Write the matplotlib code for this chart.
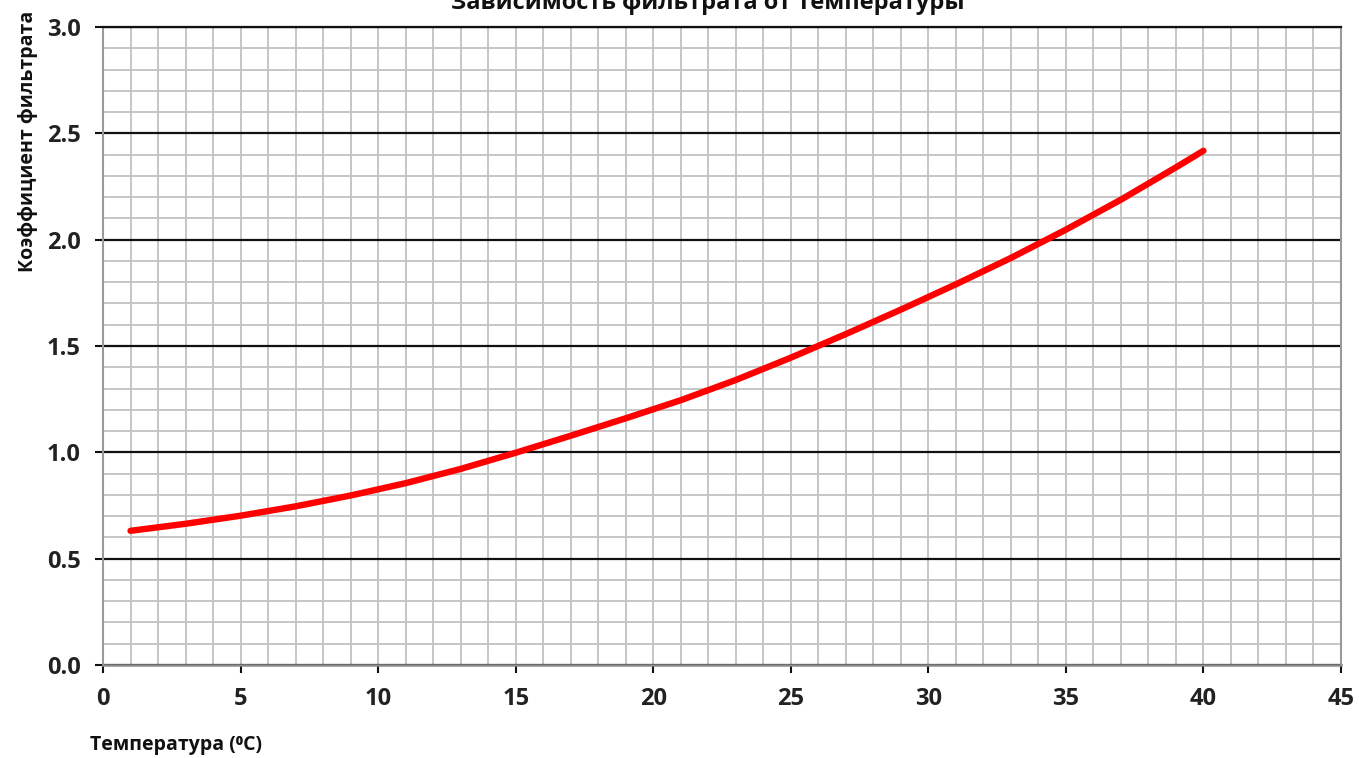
import numpy as np
import matplotlib
matplotlib.use("Agg")
import matplotlib.pyplot as plt

# Data
temperature = [1, 3, 5, 7, 9, 11, 13, 15, 17, 19, 21, 23, 25, 27, 29, 31, 33, 35, 37, 39, 40]
coefficient = [0.631, 0.664, 0.702, 0.746, 0.797, 0.855, 0.922, 0.998, 1.078, 1.160,
               1.245, 1.340, 1.445, 1.556, 1.671, 1.790, 1.914, 2.047, 2.188, 2.340, 2.418]

x_major = [0, 5, 10, 15, 20, 25, 30, 35, 40, 45]
y_major = [0.0, 0.5, 1.0, 1.5, 2.0, 2.5, 3.0]
y_labels = ["0.0", "0.5", "1.0", "1.5", "2.0", "2.5", "3.0"]

title = "Зависимость фильтрата от температуры"
xlabel = "Температура (⁰C)"
ylabel = "Коэффициент фильтрата"

FONT = ["Open Sans", "DejaVu Sans"]
plt.rcParams["font.family"] = FONT

fig = plt.figure(figsize=(13.59, 7.58), dpi=100)
ax = fig.add_axes([103 / 1359, 1 - 665 / 758, (1341 - 103) / 1359, (665 - 27) / 758])

ax.set_xlim(0, 45)
ax.set_ylim(0, 3.0)
ax.set_xticks(x_major)
ax.set_xticks(np.arange(0, 46, 1), minor=True)
ax.set_yticks(y_major)
ax.set_yticklabels(y_labels)
ax.set_yticks(np.arange(0, 3.01, 0.1), minor=True)

grey = "#c2c2c2"
ax.grid(which="both", axis="x", color=grey, lw=1.3, zorder=0)
ax.grid(which="minor", axis="y", color=grey, lw=1.3, zorder=0)
ax.grid(which="major", axis="y", color="#111111", lw=1.6, zorder=1)
ax.set_axisbelow(True)

for s in ["left", "right"]:
    ax.spines[s].set_color("#9a9a9a")
    ax.spines[s].set_linewidth(1.5)
ax.spines["bottom"].set_color("#8a8a8a")
ax.spines["bottom"].set_linewidth(1.8)
ax.spines["top"].set_color("#111111")
ax.spines["top"].set_linewidth(1.6)

ax.tick_params(which="major", length=6, width=1.5, color="#111111",
               labelsize=17, pad=10)
ax.tick_params(which="minor", length=0)
for lab in ax.get_xticklabels() + ax.get_yticklabels():
    lab.set_fontweight("bold")
    lab.set_color("#222222")

ax.plot(temperature, coefficient, color="#ff0000", lw=4.6,
        solid_capstyle="round", solid_joinstyle="round", zorder=3)

fig.text(708 / 1359, 1 - 9 / 758, title, ha="center", va="baseline",
         fontsize=17, fontweight="bold", color="#111111")
fig.text(28 / 1359, 1 - 141 / 758, ylabel, rotation=90, ha="center", va="center",
         fontsize=14, fontweight="bold", color="#111111")
fig.text(90 / 1359, 1 - 745 / 758, xlabel, ha="left", va="center",
         fontsize=14, fontweight="bold", color="#111111")

fig.savefig("out.png", dpi=100, facecolor="white")
